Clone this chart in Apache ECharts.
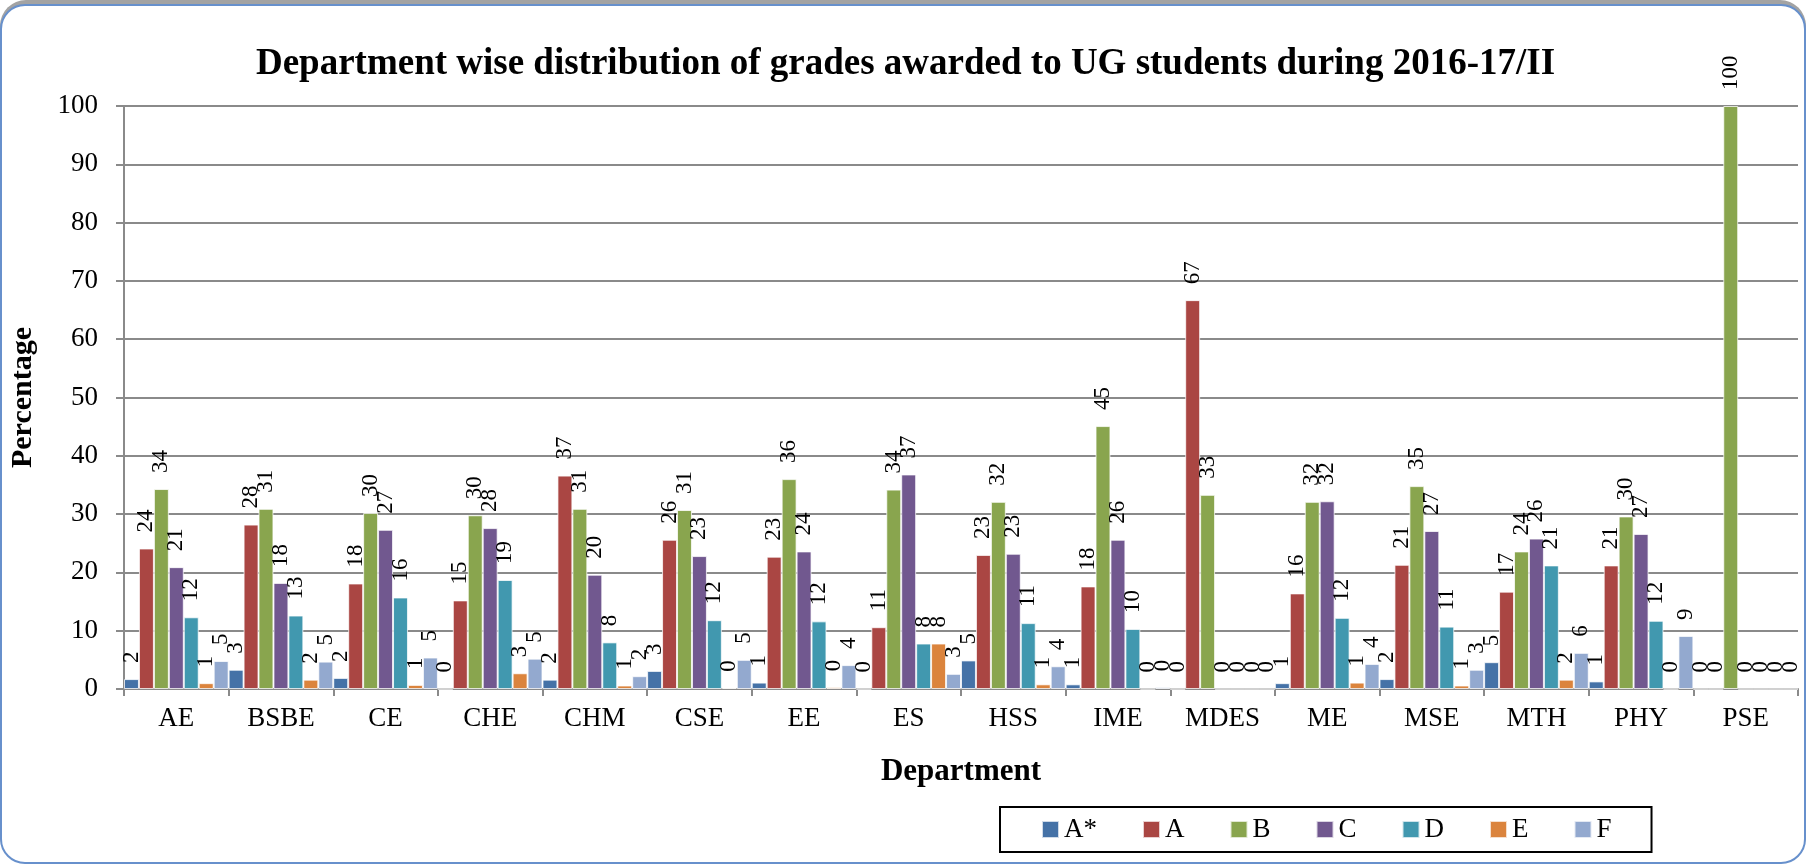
<!DOCTYPE html>
<html>
<head>
<meta charset="utf-8">
<title>Grades by department</title>
<script src="https://cdn.jsdelivr.net/npm/echarts@6/dist/echarts.min.js"></script>
<style>
    html, body { margin: 0; padding: 0; background: #fff; }
    #chart { width: 1811px; height: 865px; }
</style>
</head>
<body>
<div id="chart"></div>
<script>
// departments on the x axis
var departments = ['AE', 'BSBE', 'CE', 'CHE', 'CHM', 'CSE', 'EE', 'ES', 'HSS', 'IME', 'MDES', 'ME', 'MSE', 'MTH', 'PHY', 'PSE'];
var grades = ['A*', 'A', 'B', 'C', 'D', 'E', 'F'];
var gradeColors = ['#4572a7', '#aa4643', '#89a54e', '#71588f', '#4198af', '#db843d', '#93a9cf'];

// percentage of each grade, one value per department
var gradeAStar = [1.7, 3.3, 1.9, 0, 1.6, 3.1, 1.1, 0, 4.9, 0.8, 0, 1.0, 1.7, 4.6, 1.3, 0];
var gradeA     = [24.1, 28.2, 18.1, 15.2, 36.6, 25.6, 22.7, 10.6, 23.0, 17.6, 66.7, 16.4, 21.3, 16.7, 21.2, 0];
var gradeB     = [34.3, 30.9, 30.2, 29.8, 30.9, 30.7, 36.0, 34.2, 32.1, 45.1, 33.3, 32.1, 34.8, 23.6, 29.6, 100];
var gradeC     = [20.9, 18.2, 27.3, 27.6, 19.6, 22.8, 23.6, 36.8, 23.2, 25.6, 0, 32.2, 27.1, 25.8, 26.6, 0];
var gradeD     = [12.3, 12.6, 15.7, 18.7, 8.0, 11.8, 11.6, 7.8, 11.3, 10.3, 0, 12.2, 10.7, 21.2, 11.7, 0];
var gradeE     = [1.0, 1.6, 0.7, 2.7, 0.6, 0.2, 0.3, 7.8, 0.8, 0, 0, 1.1, 0.6, 1.6, 0, 0];
var gradeF     = [4.8, 4.7, 5.4, 5.2, 2.2, 5.0, 4.1, 2.6, 3.9, 0.3, 0, 4.3, 3.3, 6.2, 9.1, 0];
var gradeValues = [gradeAStar, gradeA, gradeB, gradeC, gradeD, gradeE, gradeF];

var yTicks = { min: 0, max: 100, step: 10 };

var serif = 'Liberation Serif';
var myChart = echarts.init(document.getElementById('chart'));

var series = grades.map(function (g, i) {
    return {
        name: g,
        type: 'bar',
        data: gradeValues[i],
        barGap: '0%',
        barCategoryGap: '0%',
        itemStyle: {
            color: gradeColors[i],
            borderColor: 'rgba(255,255,255,0.75)',
            borderWidth: 1
        },
        label: {
            show: true,
            position: 'top',
            distance: 16,
            rotate: 90,
            align: 'left',
            verticalAlign: 'middle',
            fontFamily: serif,
            fontSize: 23,
            color: '#000',
            formatter: function (p) { return Math.round(p.value); }
        }
    };
});

var option = {
    animation: false,
    color: gradeColors,
    graphic: [
        { // shadow of the frame
            type: 'rect', z: -20,
            shape: { x: 0, y: 0, width: 1806, height: 862, r: 26 },
            style: { fill: '#a3a3a3' }
        },
        {
            type: 'rect', z: -19,
            shape: { x: 1, y: 5, width: 1804, height: 858, r: 24 },
            style: { fill: '#fff', stroke: '#6790cc', lineWidth: 2 }
        }
    ],
    title: {
        text: 'Department wise distribution of grades awarded to UG students during 2016-17/II',
        left: 'center',
        top: 41,
        textStyle: { fontFamily: serif, fontSize: 37, fontWeight: 'bold', color: '#000' }
    },
    legend: {
        data: grades,
        left: 1000,
        top: 807,
        icon: 'rect',
        itemWidth: 17,
        itemHeight: 17,
        itemGap: 45,
        padding: [9, 40, 9, 41],
        borderColor: '#000',
        borderWidth: 2,
        textStyle: { fontFamily: serif, fontSize: 27, color: '#000' }
    },
    grid: { left: 120, right: 13, top: 106, height: 583, containLabel: false },
    xAxis: {
        type: 'category',
        data: departments,
        name: 'Department',
        nameLocation: 'middle',
        nameGap: 67,
        nameTextStyle: { fontFamily: serif, fontSize: 31, fontWeight: 'bold', color: '#000' },
        axisLine: { lineStyle: { color: '#8a8a8a', width: 2 } },
        axisTick: { show: true, length: 7, lineStyle: { color: '#8a8a8a', width: 2 } },
        axisLabel: { fontFamily: serif, fontSize: 27, color: '#000', margin: 16 }
    },
    yAxis: {
        type: 'value',
        min: yTicks.min,
        max: yTicks.max,
        interval: yTicks.step,
        name: 'Percentage',
        nameLocation: 'middle',
        nameGap: 86,
        nameTextStyle: { fontFamily: serif, fontSize: 30, fontWeight: 'bold', color: '#000' },
        axisLine: { show: true, lineStyle: { color: '#8a8a8a', width: 2 } },
        axisTick: { show: true, length: 8, lineStyle: { color: '#8a8a8a', width: 2 } },
        axisLabel: { fontFamily: serif, fontSize: 27, color: '#000', margin: 26 },
        splitLine: { lineStyle: { color: '#8a8a8a', width: 2 } }
    },
    series: series
};

myChart.setOption(option);
</script>
</body>
</html>
